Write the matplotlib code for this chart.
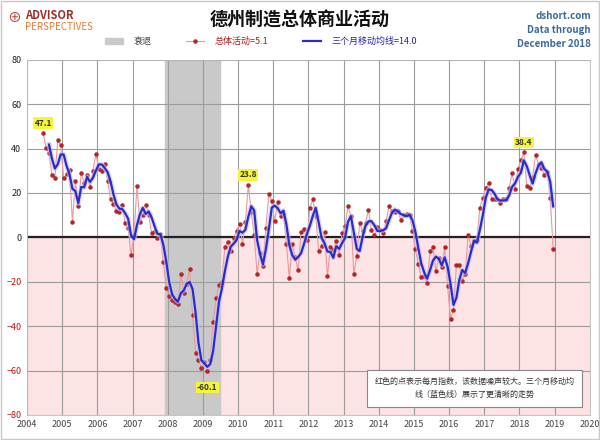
import numpy as np
import pandas as pd
import matplotlib
matplotlib.use("Agg")
import matplotlib.pyplot as plt
import matplotlib.patheffects as pe

plt.rcParams['font.family'] = ['Noto Sans CJK SC', 'DejaVu Sans']

# monthly index, Jun 2004 - Dec 2018
start = '2004-06'
vals_2004 = [47.1, 40.3, 38.1, 28.3, 26.7, 43.8, 41.6]
vals_2005 = [26.7, 28.4, 30.3, 7.0, 25.2, 14.0, 29.0, 24.6, 28.0, 22.5, 30.0, 37.6]
vals_2006 = [31.0, 29.9, 32.9, 25.4, 17.4, 15.2, 12.0, 11.6, 14.6, 6.4, 4.2, -7.8]
vals_2007 = [1.0, 23.1, 6.9, 10.0, 14.8, 10.3, 2.0, 3.0, -0.2, 1.5, -11.0, -22.8]
vals_2008 = [-26.2, -28.0, -28.9, -29.9, -16.5, -25.1, -21.0, -14.1, -35.1, -51.9, -55.3, -58.9]
vals_2009 = [-56.0, -60.1, -55.4, -38.1, -27.4, -21.5, -20.0, -4.3, -2.0, -6.1, -0.5, 3.0]
vals_2010 = [6.2, -2.8, 6.8, 23.8, 11.5, 1.2, -16.4, -7.1, -13.1, 4.4, 19.5, 16.2]
vals_2011 = [7.3, 15.9, 9.5, 10.7, -2.8, -18.5, -2.8, -8.9, -14.9, 2.4, 3.7, -1.4]
vals_2012 = [13.4, 17.1, 9.5, -6.3, -3.9, 2.3, -17.6, -4.2, -5.9, -1.8, -7.8, 1.9]
vals_2013 = [5.1, 14.0, 9.5, -16.5, -8.4, 6.4, 3.0, 6.4, 12.3, 3.2, 1.0, 4.5]
vals_2014 = [3.2, 1.9, 7.2, 14.0, 12.0, 11.5, 12.0, 8.0, 10.2, 10.4, 10.0, 2.8]
vals_2015 = [-5.3, -12.0, -17.9, -17.4, -20.6, -6.3, -4.4, -15.3, -9.3, -13.2, -4.5, -22.1]
vals_2016 = [-36.6, -32.6, -12.3, -12.3, -19.5, -16.4, 1.2, -4.0, -1.7, -1.4, 13.4, 17.9]
vals_2017 = [22.2, 24.6, 17.3, 17.1, 17.1, 15.6, 17.3, 17.3, 22.1, 29.0, 21.9, 30.9]
vals_2018 = [34.7, 38.4, 23.3, 22.2, 27.2, 37.2, 32.9, 31.4, 28.1, 29.4, 17.6, -5.1]

recession = ('2007-12', '2009-06')
labels = {'2004-06': '47.1', '2010-04': '23.8', '2018-02': '38.4', '2009-02': '-60.1'}
year_ticks = list(range(2004, 2021))
y_ticks = [-80, -60, -40, -20, 0, 20, 40, 60, 80]

values = (vals_2004 + vals_2005 + vals_2006 + vals_2007 + vals_2008 + vals_2009 + vals_2010
          + vals_2011 + vals_2012 + vals_2013 + vals_2014 + vals_2015 + vals_2016
          + vals_2017 + vals_2018)
dates = pd.date_range(start, periods=len(values), freq='MS')
s = pd.Series(values, index=dates)
ma = s.rolling(3).mean()


def dec_year(d):
    d = pd.Timestamp(d)
    return d.year + (d.month - 0.5) / 12


x = np.array([dec_year(d) for d in dates])

fig = plt.figure(figsize=(6, 4.4), dpi=100)
ax = fig.add_axes([0.045, 0.057, 0.938, 0.807])

ax.axhspan(-80, 0, color='#fde3e3', zorder=0)
ax.axvspan(dec_year(recession[0]) - 0.5 / 12, dec_year(recession[1]) + 0.5 / 12,
           color='#c9c9c9', zorder=1, label='衰退')
for yr in year_ticks:
    ax.axvline(yr, color='#9c9c9c', lw=0.8, zorder=1.5)
for yv in y_ticks:
    ax.axhline(yv, color='#9c9c9c', lw=0.8, zorder=1.5)
ax.axhline(0, color='#222222', lw=1.6, zorder=2)

ax.plot(x, s.values, color='#e89a9a', lw=0.8, marker='o', ms=2.8,
        mfc='#c0202a', mec='#8b1a1a', mew=0.3, zorder=3, label='总体活动=5.1')
ax.plot(x, ma.values, color='#2b2bc8', lw=1.6, zorder=4,
        path_effects=[pe.Stroke(linewidth=3.6, foreground='#c4c4f2', alpha=0.6), pe.Normal()])
ax.plot([], [], color='#2b2bc8', lw=1.6, label='三个月移动均线=14.0')

for d, txt in labels.items():
    v = s[pd.Timestamp(d)]
    dy = -12 if v < 0 else 7
    ax.annotate(txt, (dec_year(d), v), xytext=(0, dy), textcoords='offset points',
                ha='center', va='center', fontsize=6, fontweight='bold', color='#333333',
                bbox=dict(boxstyle='square,pad=0.15', fc='#f5f53a', ec='none'), zorder=6)

ax.set_xlim(2004, 2020)
ax.set_ylim(-80, 80)
ax.set_xticks(year_ticks)
ax.set_yticks(y_ticks)
ax.tick_params(length=0, labelsize=6.5, pad=4)
for lab in ax.get_xticklabels():
    lab.set_color('#444444')
for lab, yv in zip(ax.get_yticklabels(), y_ticks):
    lab.set_color('#cc1111' if yv < 0 else '#222222')
for sp in ax.spines.values():
    sp.set_color('#bbbbbb')
    sp.set_linewidth(0.6)

leg = fig.legend(loc='upper center', bbox_to_anchor=(0.435, 0.935), ncol=3, frameon=False,
                 fontsize=6.5, handlelength=2.0, columnspacing=3.8, handletextpad=1.2)
for t, c in zip(leg.get_texts(), ['#444444', '#b01818', '#2222aa']):
    t.set_color(c)

fig.text(0.5, 0.955, '德州制造总体商业活动', ha='center', va='center',
         fontsize=13, fontweight='bold', color='#111111')
fig.text(0.985, 0.975, 'dshort.com\nData through\nDecember 2018', ha='right', va='top',
         fontsize=7, fontweight='bold', color='#3a6a9c', linespacing=1.5)
fig.text(0.012, 0.977, '⊕', ha='left', va='top', fontsize=10, color='#b03a2e')
fig.text(0.042, 0.98, 'ADVISOR', ha='left', va='top', fontsize=8, fontweight='bold', color='#a0302a')
fig.text(0.042, 0.95, 'PERSPECTIVES', ha='left', va='top', fontsize=7, color='#e07b39')

ax.text(0.795, 0.075, '红色的点表示每月指数，该数据噪声较大。三个月移动均\n线（蓝色线）展示了更清晰的走势',
        transform=ax.transAxes, ha='center', va='center', fontsize=5.8, color='#333333',
        linespacing=1.6, zorder=7,
        bbox=dict(boxstyle='square,pad=0.9', fc='white', ec='#888888', lw=0.8))

fig.patches.append(plt.Rectangle((0.002, 0.002), 0.996, 0.996, transform=fig.transFigure,
                                 fill=False, ec='#c8c8c8', lw=1))

fig.savefig('out.png', dpi=100)
